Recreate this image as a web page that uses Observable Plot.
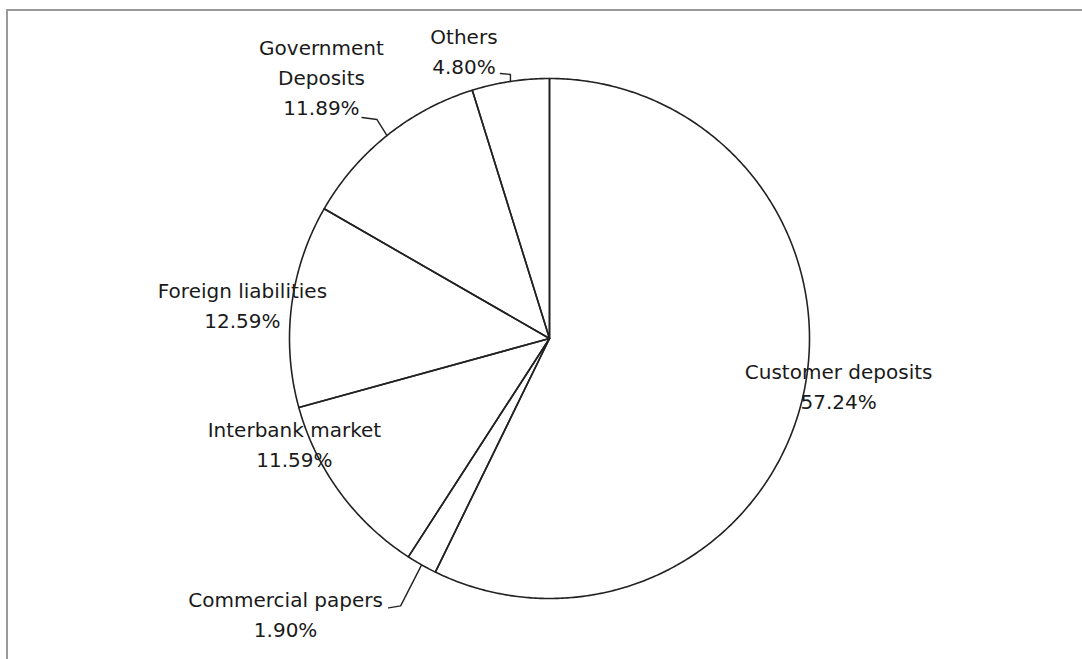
<!DOCTYPE html>
<html><head><meta charset="utf-8">
<script src="https://cdn.jsdelivr.net/npm/d3@7"></script>
<script src="https://cdn.jsdelivr.net/npm/@observablehq/plot@0.6"></script>
<style>
html,body{margin:0;padding:0;background:#fff;}
#chart{position:absolute;left:0;top:0;}
#frame{position:absolute;left:6px;top:9px;width:1100px;height:700px;border-top:2px solid #9a9a9a;border-left:2px solid #9a9a9a;pointer-events:none;}
</style></head><body>
<div id="chart"></div><div id="frame"></div>
<script>
// ---- data ----
const categories = ["Customer deposits","Commercial papers","Interbank market","Foreign liabilities","Government Deposits","Others"];
const displayNames = ["Customer deposits","Commercial papers","Interbank market","Foreign liabilities","Government\nDeposits","Others"];
const shares = [57.24, 1.90, 11.59, 12.59, 11.89, 4.80];
const shareLabels = ["57.24%","1.90%","11.59%","12.59%","11.89%","4.80%"];

// ---- layout (label centres in scale units, leader elbows as pixel offsets from the slice edge) ----
const labelLayout = {
  "Customer deposits":   {x: 1.112, y: -0.188},
  "Commercial papers":   {x: -1.015, y: -1.065, leader: [[-21, 41], [-33, 43]]},
  "Interbank market":    {x: -0.981, y: -0.411},
  "Foreign liabilities": {x: -1.181, y: 0.123},
  "Government Deposits": {x: -0.877, y: 1.0, leader: [[-10, -16], [-25, -18]]},
  "Others":              {x: -0.329, y: 1.102, leader: [[0, -7], [-10, -8]]}
};
const R = 260; // pixel radius, used to turn pixel offsets into scale units

const arcs = d3.pie().sort(null).value(d => d)(shares);

// slice outlines
const slicePts = [];
arcs.forEach((a, i) => {
  const name = categories[i];
  slicePts.push({name, x: 0, y: 0});
  const n = Math.max(2, Math.ceil((a.endAngle - a.startAngle) / (Math.PI / 360)));
  for (let k = 0; k <= n; k++) {
    const t = a.startAngle + (a.endAngle - a.startAngle) * k / n;
    slicePts.push({name, x: Math.sin(t), y: Math.cos(t)});
  }
  slicePts.push({name, x: 0, y: 0});
});

// leader lines
const leaderPts = [];
arcs.forEach((a, i) => {
  const name = categories[i];
  const L = labelLayout[name].leader;
  if (!L) return;
  const m = (a.startAngle + a.endAngle) / 2;
  const ex = Math.sin(m), ey = Math.cos(m);
  leaderPts.push({name, x: ex, y: ey});
  L.forEach(([dx, dy]) => leaderPts.push({name, x: ex + dx / R, y: ey - dy / R}));
});

const labels = categories.map((c, i) => ({
  x: labelLayout[c].x, y: labelLayout[c].y,
  text: displayNames[i] + "\n" + shareLabels[i]
}));

const plot = Plot.plot({
  width: 1082, height: 659,
  marginLeft: 289, marginRight: 273, marginTop: 78, marginBottom: 61,
  x: {domain: [-1, 1], axis: null},
  y: {domain: [-1, 1], axis: null},
  style: {fontFamily: "'DejaVu Sans', sans-serif", background: "#fff", color: "#1a1a1a"},
  marks: [
    Plot.text(labels, {x: "x", y: "y", text: "text", fontSize: 20, lineHeight: 1.5, fill: "#1a1a1a", dy: -3}),
    Plot.line(slicePts, {x: "x", y: "y", z: "name", stroke: "#222", strokeWidth: 1.6, curve: "linear"}),
    Plot.line(leaderPts, {x: "x", y: "y", z: "name", stroke: "#222", strokeWidth: 1.4, curve: "linear"})
  ]
});
document.getElementById("chart").appendChild(plot);
</script>
</body></html>
